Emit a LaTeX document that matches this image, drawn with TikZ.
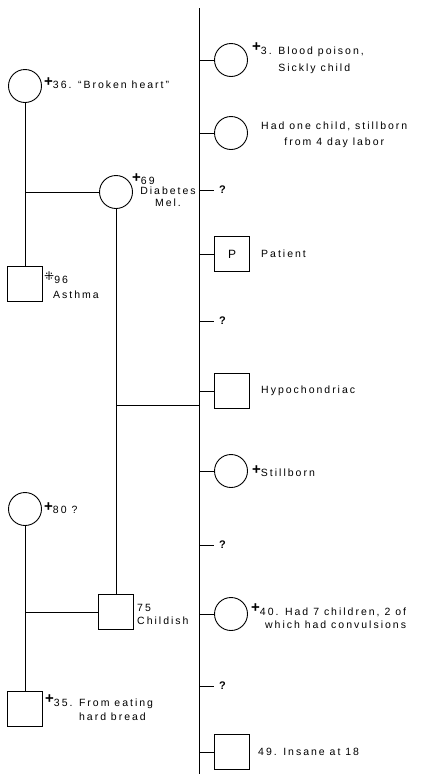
\documentclass[tikz,border=0pt]{standalone}
\usepackage{fontspec}
\setmainfont{Liberation Sans}[LetterSpace=19]
\newfontfamily\symfont{DejaVu Sans}
\newcommand\dg{\raisebox{2.5pt}{\addfontfeature{LetterSpace=0}\fontsize{15}{15}\selectfont\bfseries +}}
\newcommand\dotx{\raisebox{2.5pt}{\symfont\fontsize{12}{12}\selectfont ⁜}}
\tikzset{
  ln/.style={line width=0.9pt},
  fem/.style={circle, draw, line width=0.9pt, minimum size=33pt, inner sep=0pt},
  mal/.style={rectangle, draw, line width=0.9pt, minimum size=35pt, inner sep=0pt},
  lbl/.style={inner sep=0pt, anchor=west, font=\fontsize{10.5}{14}\selectfont},
  qlbl/.style={inner sep=0pt, anchor=west, font=\fontsize{11}{12}\selectfont\bfseries},
}
\begin{document}
\begin{tikzpicture}[x=1pt,y=-1pt]
\useasboundingbox (0,0) rectangle (421,774);
% main sibship line
\coordinate (mtop) at (199,8);
\coordinate (mbot) at (199,774);
\draw[ln] (mtop) -- (mbot);

% right column
\node[fem] (c1) at (231,60) {};
\draw[ln] (c1.west) -- (c1.west -| mtop);
\node[lbl, align=left, font=\fontsize{10.5}{17}\selectfont] (t1) at (252,58) {\dg 3. Blood poison,\\\phantom{\dg 3. }Sickly child};

\node[fem] (c2) at (231,133) {};
\draw[ln] (c2.west) -- (c2.west -| mtop);
\node[lbl, align=center, font=\fontsize{10.5}{16}\selectfont] (t2) at (261,135) {Had one child, stillborn\\from 4 day labor};

\coordinate (q1e) at (214,190);
\draw[ln] (mtop |- q1e) -- (q1e);
\node[qlbl] (q1) at (219,190) {?};

\node[mal] (p) at (232,254) {\fontsize{12}{12}\selectfont P};
\draw[ln] (p.west) -- (p.west -| mtop);
\node[lbl] (tp) at (261,254) {Patient};

\coordinate (q2e) at (214,321);
\draw[ln] (mtop |- q2e) -- (q2e);
\node[qlbl] (q2) at (219,321) {?};

\node[mal] (hy) at (232,391) {};
\draw[ln] (hy.west) -- (hy.west -| mtop);
\node[lbl] (thy) at (261,391) {Hypochondriac};

\node[fem] (sb) at (231,471) {};
\draw[ln] (sb.west) -- (sb.west -| mtop);
\node[lbl] (tsb) at (252,471) {\dg Stillborn};

\coordinate (q3e) at (214,545);
\draw[ln] (mtop |- q3e) -- (q3e);
\node[qlbl] (q3) at (219,545) {?};

\node[fem] (c40) at (231,614) {};
\draw[ln] (c40.west) -- (c40.west -| mtop);
\node[lbl, align=right, font=\fontsize{10.5}{13}\selectfont] (t40) at (251,616) {\dg 40. Had 7 children, 2 of\\which had convulsions};

\coordinate (q4e) at (214,686);
\draw[ln] (mtop |- q4e) -- (q4e);
\node[qlbl] (q4) at (219,686) {?};

\node[mal] (s49) at (232,752) {};
\draw[ln] (s49.west) -- (s49.west -| mtop);
\node[lbl] (t49) at (258,752) {49. Insane at 18};

% left: upper grandparents
\node[fem] (g1) at (25,86) {};
\node[lbl] (tg1) at (44,83) {\dg 36. “Broken heart”};
\node[mal] (s96) at (25,284) {};
\draw[ln] (g1) -- (s96);
\node[lbl, align=left, font=\fontsize{10.5}{15}\selectfont] (t96) at (44,285) {\dotx 96\\\hspace*{9pt}Asthma};

\node[fem] (g69) at (116,192) {};
\draw[ln] (g69.west) -- (g69.west -| g1);
\node[lbl] (t69a) at (132,179) {\dg 69};
\node[lbl, anchor=center, align=center, font=\fontsize{10.5}{12}\selectfont] (t69b) at (168,197) {Diabetes\\Mel.};

\node[mal] (s75) at (116,612) {};
\draw[ln] (g69) -- (s75);
\node[lbl, align=left, font=\fontsize{10.5}{13}\selectfont] (t75) at (137,614) {75\\Childish};

\coordinate (h) at (116,405);
\draw[ln] (h) -- (h -| mtop);

% left: lower grandparents
\node[fem] (g80) at (25,509) {};
\node[lbl] (tg80) at (44,508) {\dg 80 ?};
\node[mal] (s35) at (25,709) {};
\draw[ln] (g80) -- (s35);
\draw[ln] (s75.west) -- (s75.west -| g80);
\node[lbl, align=left, font=\fontsize{10.5}{12}\selectfont] (t35) at (45,708) {\dg 35. From eating\\\phantom{\dg 35. }hard bread};
\end{tikzpicture}
\end{document}
